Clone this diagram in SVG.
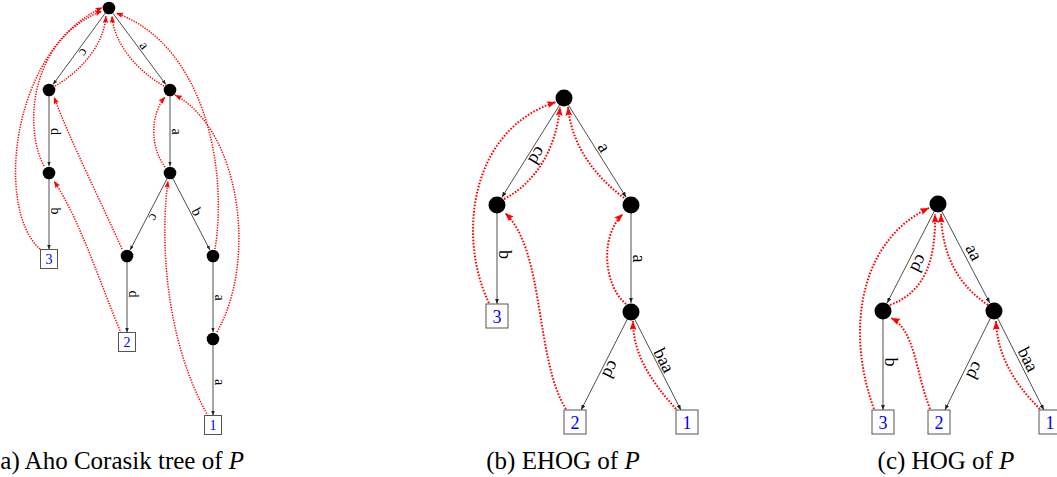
<svg xmlns="http://www.w3.org/2000/svg" width="1057" height="477" viewBox="0 0 1057 477">
<style>
.edge{fill:none;stroke:#222;stroke-width:0.8}
.ea{marker-end:url(#bkA)}
.eb{marker-end:url(#bkB)}
.fa{fill:none;stroke:#ff0000;stroke-width:1.5;stroke-dasharray:1.3 1.3;marker-end:url(#rdA)}
.fb{fill:none;stroke:#ff0000;stroke-width:2;stroke-dasharray:1.6 1.6;marker-end:url(#rdB)}
.node{fill:#000}
.box{fill:#fff;stroke:#555;stroke-width:1}
.num{font-family:"Liberation Serif",serif;fill:#0000ff;text-anchor:middle}
.lbl{font-family:"Liberation Serif",serif;fill:#000;text-anchor:middle}
.la{font-size:14px}
.lb{font-size:18px}
.cap{font-family:"Liberation Serif",serif;font-size:25px;fill:#000}
</style>
<defs>
<marker id="bkA" viewBox="0 0 10 10" refX="10" refY="5" markerWidth="4.5" markerHeight="3.5" markerUnits="userSpaceOnUse" orient="auto" preserveAspectRatio="none"><path d="M0,0 L10,5 L0,10 Z" fill="#222"/></marker>
<marker id="bkB" viewBox="0 0 10 10" refX="10" refY="5" markerWidth="5.5" markerHeight="4.2" markerUnits="userSpaceOnUse" orient="auto" preserveAspectRatio="none"><path d="M0,0 L10,5 L0,10 Z" fill="#222"/></marker>
<marker id="rdA" viewBox="0 0 10 10" refX="10" refY="5" markerWidth="7" markerHeight="5.5" markerUnits="userSpaceOnUse" orient="auto" preserveAspectRatio="none"><path d="M0,0 Q3,5 0,10 L10,5 Z" fill="#ff0000"/></marker>
<marker id="rdB" viewBox="0 0 10 10" refX="10" refY="5" markerWidth="9" markerHeight="7" markerUnits="userSpaceOnUse" orient="auto" preserveAspectRatio="none"><path d="M0,0 Q3,5 0,10 L10,5 Z" fill="#ff0000"/></marker>
</defs>

<!-- ================= (a) ================= -->
<g id="a-connectors">
<line class="edge ea" x1="109" y1="8" x2="53" y2="84.5"/>
<line class="edge ea" x1="109" y1="8" x2="165.9" y2="84.5"/>
<line class="edge ea" x1="49" y1="90" x2="49" y2="166.2"/>
<line class="edge ea" x1="49" y1="173" x2="49" y2="249.5"/>
<line class="edge ea" x1="170" y1="90" x2="170" y2="166.2"/>
<line class="edge ea" x1="170" y1="173" x2="130.1" y2="250"/>
<line class="edge ea" x1="170" y1="173" x2="209.9" y2="250"/>
<line class="edge ea" x1="127" y1="256" x2="127" y2="332.5"/>
<line class="edge ea" x1="213" y1="256" x2="213" y2="332.2"/>
<line class="edge ea" x1="213" y1="339" x2="213" y2="415.5"/>
<g class="lbl la">
<text transform="translate(79,49) rotate(126.2)" y="-1.5">c</text>
<text transform="translate(139.5,49) rotate(53.4)" y="-1.5">a</text>
<text transform="translate(49,131.5) rotate(90)" y="-1.5">d</text>
<text transform="translate(49,211) rotate(90)" y="-1.5">b</text>
<text transform="translate(170,131.5) rotate(90)" y="-1.5">a</text>
<text transform="translate(148.5,214.5) rotate(117.4)" y="-1.5">c</text>
<text transform="translate(191.5,214.5) rotate(62.6)" y="-1.5">b</text>
<text transform="translate(127,294) rotate(90)" y="-1.5">d</text>
<text transform="translate(213,297.5) rotate(90)" y="-1.5">a</text>
<text transform="translate(213,382) rotate(90)" y="-1.5">a</text>
</g>
<path class="fa" d="M55,86 C80,72 104,45 106,16"/>
<path class="fa" d="M164,86 C139,72 114,45 112,16"/>
<path class="fa" d="M44,166 C24,130 28,40 102,11"/>
<path class="fa" d="M40,249 C-5,210 10,50 102.5,7.5"/>
<path class="fa" d="M165,167 C150,147 150,115 165,97"/>
<path class="fa" d="M122,249 C100,200 70,140 54,97"/>
<path class="fa" d="M121,333 C100,283 80,220 54,181"/>
<path class="fa" d="M215,249 C228,170 205,45 116,13"/>
<path class="fa" d="M217,332 C258,260 240,130 175,95"/>
<path class="fa" d="M208,416 C165,340 160,240 168,181"/>
</g>
<g id="a-root"><circle class="node" cx="109" cy="8" r="6.3"/></g>
<g id="a-c"><circle class="node" cx="49" cy="90" r="6.3"/></g>
<g id="a-a"><circle class="node" cx="170" cy="90" r="6.3"/></g>
<g id="a-cd"><circle class="node" cx="49" cy="173" r="6.3"/></g>
<g id="a-aa"><circle class="node" cx="170" cy="173" r="6.3"/></g>
<g id="a-aac"><circle class="node" cx="127" cy="256" r="6.3"/></g>
<g id="a-aab"><circle class="node" cx="213" cy="256" r="6.3"/></g>
<g id="a-aaba"><circle class="node" cx="213" cy="339" r="6.3"/></g>
<g id="a-3"><rect class="box" x="40.5" y="249.5" width="17" height="19"/><text class="num" x="49" y="264" font-size="14">3</text></g>
<g id="a-2"><rect class="box" x="118.5" y="332.5" width="17" height="19"/><text class="num" x="127" y="347" font-size="14">2</text></g>
<g id="a-1"><rect class="box" x="204.5" y="415.5" width="17" height="19"/><text class="num" x="213" y="430" font-size="14">1</text></g>

<!-- ================= (b) ================= -->
<g id="b-connectors">
<line class="edge eb" x1="564" y1="98" x2="501.8" y2="197.4"/>
<line class="edge eb" x1="564" y1="98" x2="626.2" y2="197.4"/>
<line class="edge eb" x1="497" y1="205" x2="497" y2="304"/>
<line class="edge eb" x1="631" y1="205" x2="631" y2="303"/>
<line class="edge eb" x1="631" y1="312" x2="581.1" y2="410"/>
<line class="edge eb" x1="631" y1="312" x2="680.9" y2="410"/>
<g class="lbl lb">
<text transform="translate(530.5,151.5) rotate(122.05)" y="-2">cd</text>
<text transform="translate(597.5,151.5) rotate(57.95)" y="-2">a</text>
<text transform="translate(497,254.5) rotate(90)" y="-2">b</text>
<text transform="translate(631,258.5) rotate(90)" y="-2">a</text>
<text transform="translate(604,366) rotate(117)" y="-2">cd</text>
<text transform="translate(657,364) rotate(63)" y="-2">baa</text>
</g>
<path class="fb" d="M504,199 C535,183 556,150 560,107"/>
<path class="fb" d="M624,198 C600,180 572,150 568,107"/>
<path class="fb" d="M489,303 C458,240 468,130 556,102"/>
<path class="fb" d="M566,409 C535,360 545,250 505,213"/>
<path class="fb" d="M626,304 C603,285 600,235 623,214"/>
<path class="fb" d="M676,409 C648,378 633,352 633,321"/>
</g>
<g id="b-root"><circle class="node" cx="564" cy="98" r="8.5"/></g>
<g id="b-cd"><circle class="node" cx="497" cy="205" r="8.5"/></g>
<g id="b-a"><circle class="node" cx="631" cy="205" r="8.5"/></g>
<g id="b-aa"><circle class="node" cx="631" cy="312" r="8.5"/></g>
<g id="b-3"><rect class="box" x="486" y="304" width="22" height="24"/><text class="num" x="497" y="322.5" font-size="18">3</text></g>
<g id="b-2"><rect class="box" x="564" y="410" width="22" height="24"/><text class="num" x="575" y="428.5" font-size="18">2</text></g>
<g id="b-1"><rect class="box" x="676" y="410" width="22" height="24"/><text class="num" x="687" y="428.5" font-size="18">1</text></g>

<!-- ================= (c) ================= -->
<g id="c-connectors">
<line class="edge eb" x1="938" y1="204" x2="887.1" y2="303"/>
<line class="edge eb" x1="938" y1="204" x2="989.8" y2="303"/>
<line class="edge eb" x1="883" y1="311" x2="883" y2="410"/>
<line class="edge eb" x1="994" y1="311" x2="944.9" y2="410"/>
<line class="edge eb" x1="994" y1="311" x2="1043.9" y2="410"/>
<g class="lbl lb">
<text transform="translate(912,260) rotate(117.2)" y="-2">cd</text>
<text transform="translate(967,256) rotate(62.4)" y="-2">aa</text>
<text transform="translate(883,362) rotate(90)" y="-2">b</text>
<text transform="translate(968,367) rotate(116.4)" y="-2">cd</text>
<text transform="translate(1021,363) rotate(63.2)" y="-2">baa</text>
</g>
<path class="fb" d="M874,409 C845,330 860,240 929,208"/>
<path class="fb" d="M890,305 C925,292 936,260 935,214"/>
<path class="fb" d="M988,305 C958,285 942,255 941,214"/>
<path class="fb" d="M930,409 C915,370 915,330 891,318"/>
<path class="fb" d="M1040,409 C1010,380 997,350 996,321"/>
</g>
<g id="c-root"><circle class="node" cx="938" cy="204" r="8.5"/></g>
<g id="c-cd"><circle class="node" cx="883" cy="311" r="8.5"/></g>
<g id="c-aa"><circle class="node" cx="994" cy="311" r="8.5"/></g>
<g id="c-3"><rect class="box" x="872" y="410" width="22" height="24"/><text class="num" x="883" y="428.5" font-size="18">3</text></g>
<g id="c-2"><rect class="box" x="928" y="410" width="22" height="24"/><text class="num" x="939" y="428.5" font-size="18">2</text></g>
<g id="c-1"><rect class="box" x="1039" y="410" width="22" height="24"/><text class="num" x="1050" y="428.5" font-size="18">1</text></g>

<!-- captions -->
<g id="captions">
<text class="cap" x="-8" y="469">(a) Aho Corasik tree of <tspan font-style="italic">P</tspan></text>
<text class="cap" x="563" y="469" text-anchor="middle">(b) EHOG of <tspan font-style="italic">P</tspan></text>
<text class="cap" x="946" y="469" text-anchor="middle">(c) HOG of <tspan font-style="italic">P</tspan></text>
</g>
</svg>
